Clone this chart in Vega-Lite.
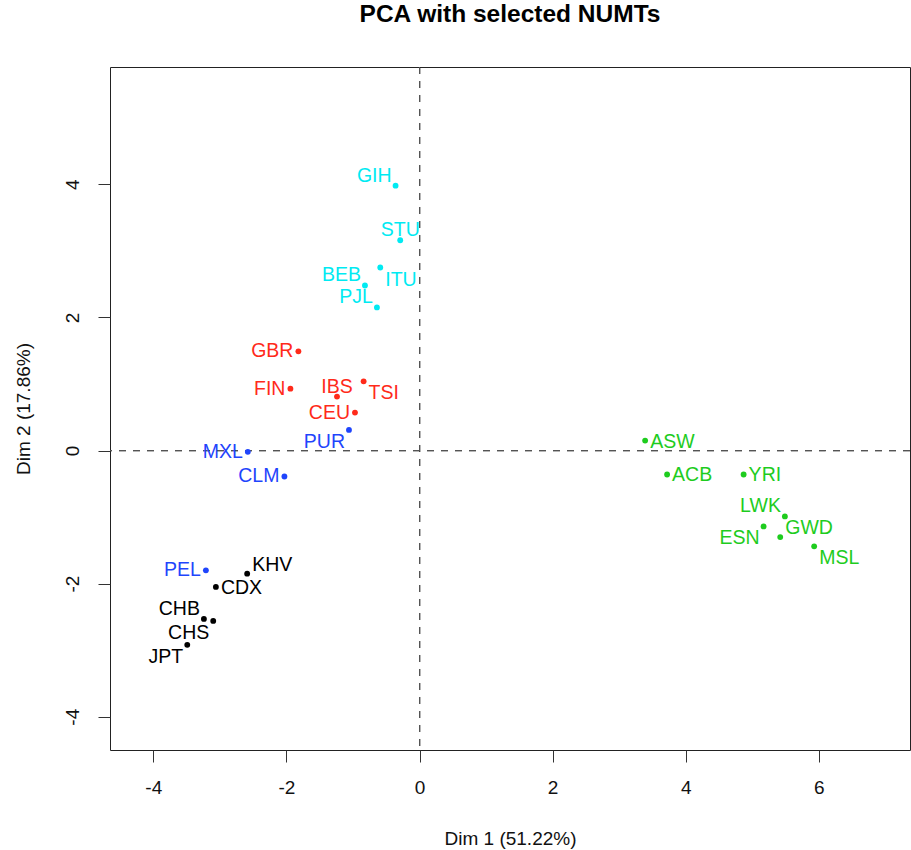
{
  "$schema": "https://vega.github.io/schema/vega-lite/v6.json",
  "autosize": "none",
  "width": 800,
  "height": 683,
  "padding": {"left": 110, "top": 67, "right": 1, "bottom": 100},
  "background": "white",
  "title": {"text": "PCA with selected NUMTs", "font": "Liberation Sans", "fontSize": 24.5, "fontWeight": "bold", "color": "#000000", "anchor": "middle", "baseline": "middle", "offset": 27},
  "config": {
    "view": {"stroke": "#222222", "strokeWidth": 1},
    "axis": {"grid": false, "domain": false, "tickColor": "#333333", "tickSize": 12, "tickWidth": 1, "labelFont": "Liberation Sans", "labelFontSize": 19, "labelColor": "#111111", "titleFont": "Liberation Sans", "titleFontSize": 19, "titleFontWeight": "normal", "titleColor": "#111111", "labelFlush": false, "labelOverlap": false, "labelExpr": "datum.value + ''"},
    "text": {"font": "Liberation Sans", "fontSize": 19.5, "baseline": "middle"}
  },
  "data": {"values": [
    {"pop": "GIH", "group": "SAS", "dim1": -0.36, "dim2": 3.98},
    {"pop": "STU", "group": "SAS", "dim1": -0.29, "dim2": 3.16},
    {"pop": "ITU", "group": "SAS", "dim1": -0.59, "dim2": 2.75},
    {"pop": "BEB", "group": "SAS", "dim1": -0.82, "dim2": 2.48},
    {"pop": "PJL", "group": "SAS", "dim1": -0.64, "dim2": 2.15},
    {"pop": "GBR", "group": "EUR", "dim1": -1.82, "dim2": 1.49},
    {"pop": "FIN", "group": "EUR", "dim1": -1.94, "dim2": 0.93},
    {"pop": "IBS", "group": "EUR", "dim1": -1.24, "dim2": 0.81},
    {"pop": "TSI", "group": "EUR", "dim1": -0.84, "dim2": 1.04},
    {"pop": "CEU", "group": "EUR", "dim1": -0.97, "dim2": 0.57},
    {"pop": "PUR", "group": "AMR", "dim1": -1.06, "dim2": 0.31},
    {"pop": "MXL", "group": "AMR", "dim1": -2.58, "dim2": -0.02},
    {"pop": "CLM", "group": "AMR", "dim1": -2.03, "dim2": -0.39},
    {"pop": "PEL", "group": "AMR", "dim1": -3.21, "dim2": -1.8},
    {"pop": "KHV", "group": "EAS", "dim1": -2.59, "dim2": -1.85},
    {"pop": "CDX", "group": "EAS", "dim1": -3.06, "dim2": -2.05},
    {"pop": "CHB", "group": "EAS", "dim1": -3.24, "dim2": -2.53},
    {"pop": "CHS", "group": "EAS", "dim1": -3.1, "dim2": -2.56},
    {"pop": "JPT", "group": "EAS", "dim1": -3.49, "dim2": -2.92},
    {"pop": "ASW", "group": "AFR", "dim1": 3.39, "dim2": 0.15},
    {"pop": "ACB", "group": "AFR", "dim1": 3.72, "dim2": -0.36},
    {"pop": "YRI", "group": "AFR", "dim1": 4.87, "dim2": -0.36},
    {"pop": "LWK", "group": "AFR", "dim1": 5.49, "dim2": -0.99},
    {"pop": "ESN", "group": "AFR", "dim1": 5.17, "dim2": -1.14},
    {"pop": "GWD", "group": "AFR", "dim1": 5.42, "dim2": -1.3},
    {"pop": "MSL", "group": "AFR", "dim1": 5.93, "dim2": -1.44}
  ]},
  "encoding": {
    "x": {"field": "dim1", "type": "quantitative", "scale": {"domain": [-4.651, 7.37], "nice": false, "zero": false},
      "axis": {"title": "Dim 1 (51.22%)", "values": [-4, -2, 0, 2, 4, 6], "labelPadding": 25, "labelBaseline": "middle", "titleY": 88, "titleBaseline": "middle"}},
    "y": {"field": "dim2", "type": "quantitative", "scale": {"domain": [-4.5, 5.763], "nice": false, "zero": false},
      "axis": {"title": "Dim 2 (17.86%)", "values": [-4, -2, 0, 2, 4], "labelAngle": 270, "labelAlign": "center", "labelBaseline": "middle", "labelPadding": 26, "titleX": -87, "titleAngle": 270, "titleBaseline": "middle"}},
    "color": {"field": "group", "type": "nominal", "legend": null,
      "scale": {"domain": ["AFR", "AMR", "EAS", "EUR", "SAS"], "range": ["#1ECC1E", "#1F45FC", "#000000", "#FF2A1A", "#00EAF2"]}}
  },
  "layer": [
    {"mark": {"type": "rule", "color": "#555555", "strokeDash": [7, 7], "strokeWidth": 1}, "encoding": {"x": {"datum": 0}, "y": null, "color": null}},
    {"mark": {"type": "rule", "color": "#555555", "strokeDash": [7, 7], "strokeWidth": 1}, "encoding": {"y": {"datum": 0}, "x": null, "color": null}},
    {"mark": {"type": "circle", "size": 34, "opacity": 1}},
    {"transform": [{"filter": {"field": "pop", "oneOf": ["GBR", "FIN", "CEU", "MXL", "CLM", "PEL"]}}],
      "mark": {"type": "text", "align": "right", "dx": -5, "dy": 0}, "encoding": {"text": {"field": "pop"}}},
    {"transform": [{"filter": {"field": "pop", "oneOf": ["GIH", "BEB", "PJL", "CHB", "LWK"]}}],
      "mark": {"type": "text", "align": "right", "dx": -4, "dy": -10}, "encoding": {"text": {"field": "pop"}}},
    {"transform": [{"filter": {"field": "pop", "oneOf": ["PUR", "CHS", "JPT", "ESN"]}}],
      "mark": {"type": "text", "align": "right", "dx": -4, "dy": 12}, "encoding": {"text": {"field": "pop"}}},
    {"transform": [{"filter": {"field": "pop", "oneOf": ["CDX", "ASW", "ACB", "YRI"]}}],
      "mark": {"type": "text", "align": "left", "dx": 5, "dy": 1}, "encoding": {"text": {"field": "pop"}}},
    {"transform": [{"filter": {"field": "pop", "oneOf": ["KHV", "GWD"]}}],
      "mark": {"type": "text", "align": "left", "dx": 5, "dy": -9}, "encoding": {"text": {"field": "pop"}}},
    {"transform": [{"filter": {"field": "pop", "oneOf": ["ITU", "TSI", "MSL"]}}],
      "mark": {"type": "text", "align": "left", "dx": 5, "dy": 12}, "encoding": {"text": {"field": "pop"}}},
    {"transform": [{"filter": {"field": "pop", "oneOf": ["STU", "IBS"]}}],
      "mark": {"type": "text", "align": "center", "dx": 0, "dy": -10}, "encoding": {"text": {"field": "pop"}}}
  ]
}
